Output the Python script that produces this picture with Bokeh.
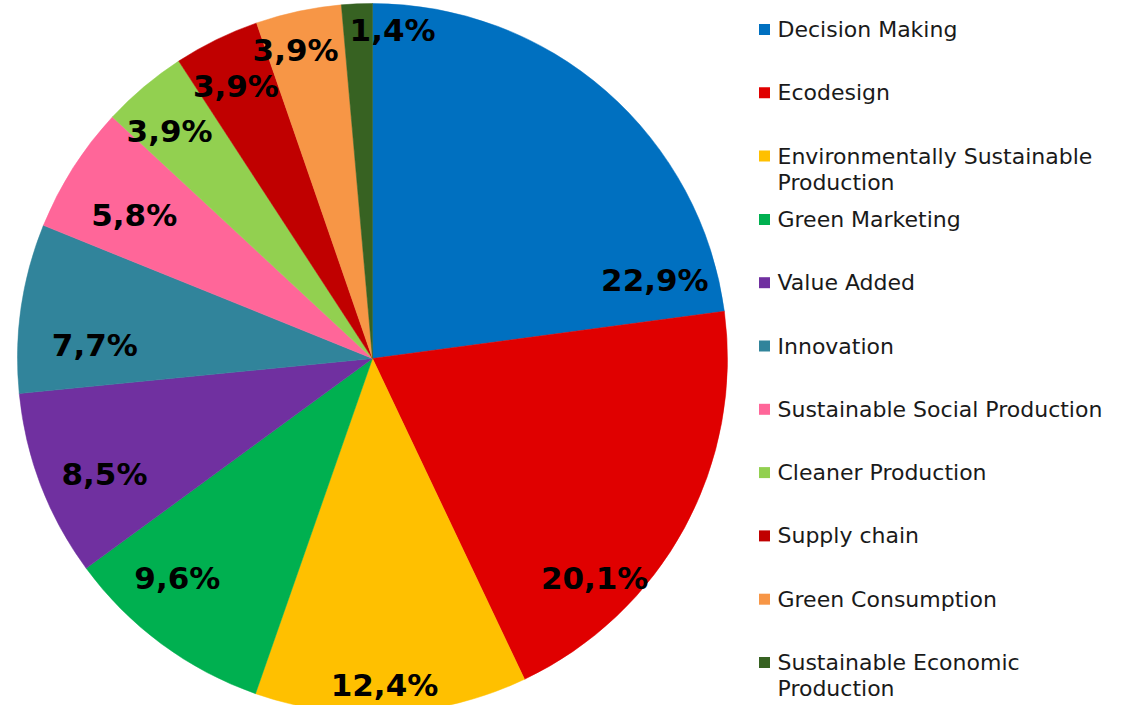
import math
from bokeh.plotting import figure
from bokeh.models import Range1d, ColumnDataSource
from bokeh.core.properties import value
from bokeh.embed import file_html
from bokeh.resources import INLINE

# ---- data ----
categories = [
    "Decision Making", "Ecodesign", "Environmentally Sustainable Production",
    "Green Marketing", "Value Added", "Innovation",
    "Sustainable Social Production", "Cleaner Production", "Supply chain",
    "Green Consumption", "Sustainable Economic Production",
]
shares = [22.9, 20.1, 12.4, 9.6, 8.5, 7.7, 5.8, 3.9, 3.9, 3.9, 1.4]
colors = ["#0070C0", "#E00000", "#FFC000", "#00B050", "#7030A0", "#31849B",
          "#FF6699", "#92D050", "#C00000", "#F79646", "#376222"]
legend_lines = [
    ["Decision Making"], ["Ecodesign"], ["Environmentally Sustainable", "Production"],
    ["Green Marketing"], ["Value Added"], ["Innovation"],
    ["Sustainable Social Production"], ["Cleaner Production"], ["Supply chain"],
    ["Green Consumption"], ["Sustainable Economic", "Production"],
]

# ---- layout (pixel coordinates; y is negated) ----
CX, CY, R = 372, -358, 355
label_angle_deg = [15.5, -44.6, -87.9, -131.6, -156.6, 177.3, 149.0, 131.7, 116.6, 104.0, 86.5]
label_radius = [293, 312, 327, 294, 292, 278, 278, 305, 305, 318, 329]
LEG_X, LEG_Y0, LEG_DY, LINE_DY = 764, -29, 63.3, 26

total = sum(shares)
starts, ends = [], []
cum = 0.0
for s in shares:
    starts.append(math.radians(90 - cum / total * 360))
    cum += s
    ends.append(math.radians(90 - cum / total * 360))

p = figure(width=1108, height=705, output_backend="svg", toolbar_location=None,
           x_range=Range1d(0, 1108), y_range=Range1d(-705, 0), min_border=0)
p.axis.visible = False
p.grid.visible = False
p.outline_line_color = None
p.background_fill_color = "white"

src = ColumnDataSource(dict(start=starts, end=ends, color=colors))
p.wedge(x=CX, y=CY, radius=R, start_angle="start", end_angle="end",
        direction="clock", fill_color="color", line_color="color", line_width=0.5,
        source=src)

lbl_x = [CX + r * math.cos(math.radians(a)) for a, r in zip(label_angle_deg, label_radius)]
lbl_y = [CY + r * math.sin(math.radians(a)) for a, r in zip(label_angle_deg, label_radius)]
lbl_t = [f"{s:.1f}".replace(".", ",") + "%" for s in shares]
p.text(x=lbl_x, y=lbl_y, text=lbl_t, text_font=value("DejaVu Sans"),
       text_font_style="bold", text_font_size="31px", text_color="black",
       text_align="center", text_baseline="middle")

# legend
mx, my = [], []
tx, ty, tt = [], [], []
for i, lines in enumerate(legend_lines):
    y0 = LEG_Y0 - i * LEG_DY
    mx.append(LEG_X)
    my.append(y0)
    for j, ln in enumerate(lines):
        tx.append(LEG_X + 13)
        ty.append(y0 - j * LINE_DY)
        tt.append(ln)
p.scatter(x=mx, y=my, marker="square", size=11, fill_color=colors, line_color=None)
p.text(x=tx, y=ty, text=tt, text_font=value("DejaVu Sans"), text_font_size="22px",
       text_color="#1a1a1a", text_align="left", text_baseline="middle")

open("out.html", "w").write(file_html(p, INLINE))
